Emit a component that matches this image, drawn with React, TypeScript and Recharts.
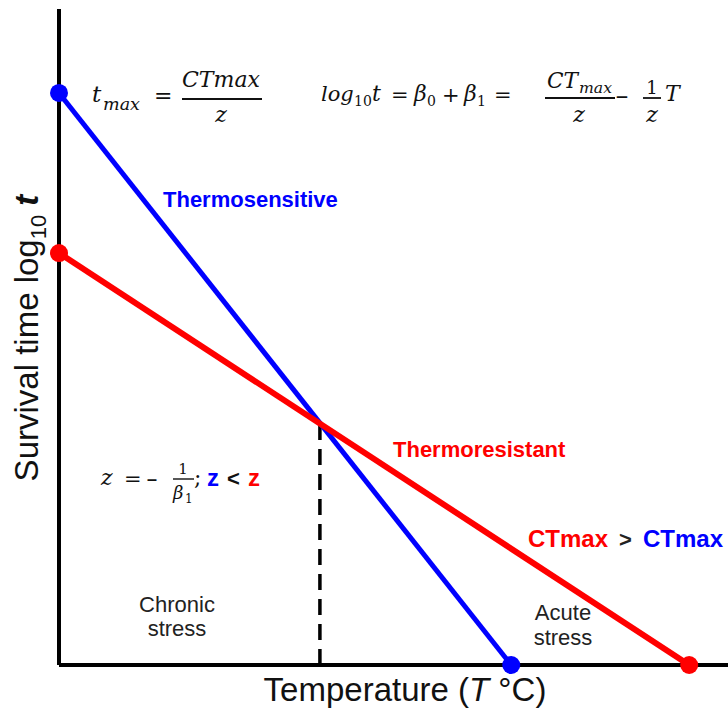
import React from 'react';
import { ComposedChart, Line, XAxis, YAxis, ReferenceLine, Customized } from 'recharts';

// Temperature (x, arbitrary units) and survival time log10 t (y, arbitrary units)
const sensitiveT = [0, 67.6];
const sensitiveLogT = [87.2, 0];
const resistantT = [0, 94.2];
const resistantLogT = [62.8, 0];
const crossoverT = [39, 39];
const crossoverLogT = [0, 36.9];

const toPoints = (xs: number[], ys: number[]) => xs.map((x, i) => ({ x, y: ys[i] }));
const sensitiveData = toPoints(sensitiveT, sensitiveLogT);
const resistantData = toPoints(resistantT, resistantLogT);
const crossoverData = toPoints(crossoverT, crossoverLogT);

const BLUE = '#0000ff';
const RED = '#ff0000';
const INK = '#111111';
const serif = '"DejaVu Serif", serif';
const sans = '"Liberation Sans", Arial, sans-serif';

const It = (p: any) => (
  <text fontFamily={serif} fontStyle="italic" fill={INK} {...p} />
);
const Up = (p: any) => <text fontFamily={serif} fill={INK} {...p} />;
const Sans = (p: any) => <text fontFamily={sans} fill={INK} {...p} />;

function Annotations() {
  return (
    <g>
      {/* Axis titles */}
      <Sans x={405} y={701} textAnchor="middle" fontSize={33}>
        Temperature (<tspan fontStyle="italic">T</tspan> °C)
      </Sans>
      <Sans transform="rotate(-90)" x={-338} y={38} textAnchor="middle" fontSize={33}>
        Survival time log<tspan fontSize={22} dy={8}>10</tspan>
        <tspan dy={-8}> </tspan>
        <tspan fontStyle="italic" fontWeight="bold">t</tspan>
      </Sans>

      {/* Formula 1: t_max = CTmax / z */}
      <It x={92} y={102} fontSize={23}>t</It>
      <It x={103} y={110} fontSize={16} textLength={37} lengthAdjust="spacingAndGlyphs">max</It>
      <Up x={154} y={103} fontSize={22}>=</Up>
      <It x={221} y={87} fontSize={22} textAnchor="middle" textLength={78} lengthAdjust="spacingAndGlyphs">CTmax</It>
      <line x1={182} x2={262} y1={99} y2={99} stroke={INK} strokeWidth={1.8} />
      <It x={221} y={122} fontSize={22} textAnchor="middle">z</It>

      {/* Formula 2 */}
      <It x={321} y={101} fontSize={21}>log</It>
      <Up x={354} y={106} fontSize={14}>10</Up>
      <It x={372} y={101} fontSize={22}>t</It>
      <Up x={391} y={102} fontSize={21}>=</Up>
      <It x={414} y={101} fontSize={22}>β</It>
      <Up x={427} y={106} fontSize={14}>0</Up>
      <Up x={442} y={102} fontSize={21}>+</Up>
      <It x={464} y={101} fontSize={22}>β</It>
      <Up x={477} y={106} fontSize={14}>1</Up>
      <Up x={494} y={102} fontSize={21}>=</Up>
      <It x={547} y={88} fontSize={22} textLength={31} lengthAdjust="spacingAndGlyphs">CT</It>
      <It x={579} y={93} fontSize={15} textLength={33} lengthAdjust="spacingAndGlyphs">max</It>
      <line x1={545} x2={615} y1={98} y2={98} stroke={INK} strokeWidth={1.8} />
      <It x={579} y={122} fontSize={22} textAnchor="middle">z</It>
      <Up x={615} y={104} fontSize={22} textLength={14} lengthAdjust="spacingAndGlyphs">−</Up>
      <Up x={652} y={94} fontSize={18} textAnchor="middle">1</Up>
      <line x1={643} x2={661} y1={98} y2={98} stroke={INK} strokeWidth={1.8} />
      <It x={652} y={122} fontSize={22} textAnchor="middle">z</It>
      <It x={665} y={101} fontSize={22}>T</It>

      {/* Formula 3 */}
      <It x={101} y={485} fontSize={22}>z</It>
      <Up x={124} y={486} fontSize={21}>=</Up>
      <Up x={146} y={487} fontSize={22} textLength={12} lengthAdjust="spacingAndGlyphs">−</Up>
      <Up x={183} y={474} fontSize={15} textAnchor="middle">1</Up>
      <line x1={173} x2={194} y1={479} y2={479} stroke={INK} strokeWidth={1.4} />
      <It x={173} y={499} fontSize={18}>β</It>
      <Up x={185} y={503} fontSize={12}>1</Up>
      <Up x={194} y={485} fontSize={22}>;</Up>
      <Sans x={207} y={486} fontSize={24} fontWeight="bold" fill={BLUE}>z</Sans>
      <Sans x={227} y={486} fontSize={22} fontWeight="bold">&lt;</Sans>
      <Sans x={248} y={486} fontSize={24} fontWeight="bold" fill={RED}>z</Sans>

      {/* Labels */}
      <Sans x={163} y={207} fontSize={22} fontWeight="bold" fill={BLUE}>Thermosensitive</Sans>
      <Sans x={393} y={457} fontSize={22} fontWeight="bold" fill={RED}>Thermoresistant</Sans>
      <Sans x={528} y={547} fontSize={24} fontWeight="bold" fill={RED}>CTmax</Sans>
      <Sans x={619} y={547} fontSize={22} fontWeight="bold" fill="#222">&gt;</Sans>
      <Sans x={643} y={547} fontSize={24} fontWeight="bold" fill={BLUE}>CTmax</Sans>

      <Sans x={177} y={612} fontSize={22} textAnchor="middle" fill="#222">Chronic</Sans>
      <Sans x={177} y={636} fontSize={22} textAnchor="middle" fill="#222">stress</Sans>
      <Sans x={563} y={620} fontSize={22} textAnchor="middle" fill="#222">Acute</Sans>
      <Sans x={563} y={645} fontSize={22} textAnchor="middle" fill="#222">stress</Sans>
    </g>
  );
}

export default function App() {
  return (
    <div style={{ position: 'absolute', left: 0, top: 0, width: 728, height: 708, background: '#fff' }}>
      <ComposedChart
        width={728}
        height={708}
        margin={{ top: 9, right: 0, bottom: 43, left: 59 }}
      >
        <XAxis type="number" dataKey="x" domain={[0, 100]} hide />
        <YAxis type="number" dataKey="y" domain={[0, 100]} hide />
        <ReferenceLine x={0} stroke="#000" strokeWidth={4} />
        <ReferenceLine y={0} stroke="#000" strokeWidth={4} />
        <Line
          data={crossoverData}
          dataKey="y"
          type="linear"
          stroke="#000"
          strokeWidth={3.5}
          strokeDasharray="16 9"
          dot={false}
          isAnimationActive={false}
        />
        <Line
          data={sensitiveData}
          dataKey="y"
          type="linear"
          stroke={BLUE}
          strokeWidth={5}
          dot={{ r: 9, fill: BLUE, stroke: 'none' }}
          isAnimationActive={false}
        />
        <Line
          data={resistantData}
          dataKey="y"
          type="linear"
          stroke={RED}
          strokeWidth={6}
          dot={{ r: 9, fill: RED, stroke: 'none' }}
          isAnimationActive={false}
        />
        <Customized component={<Annotations />} />
      </ComposedChart>
    </div>
  );
}
